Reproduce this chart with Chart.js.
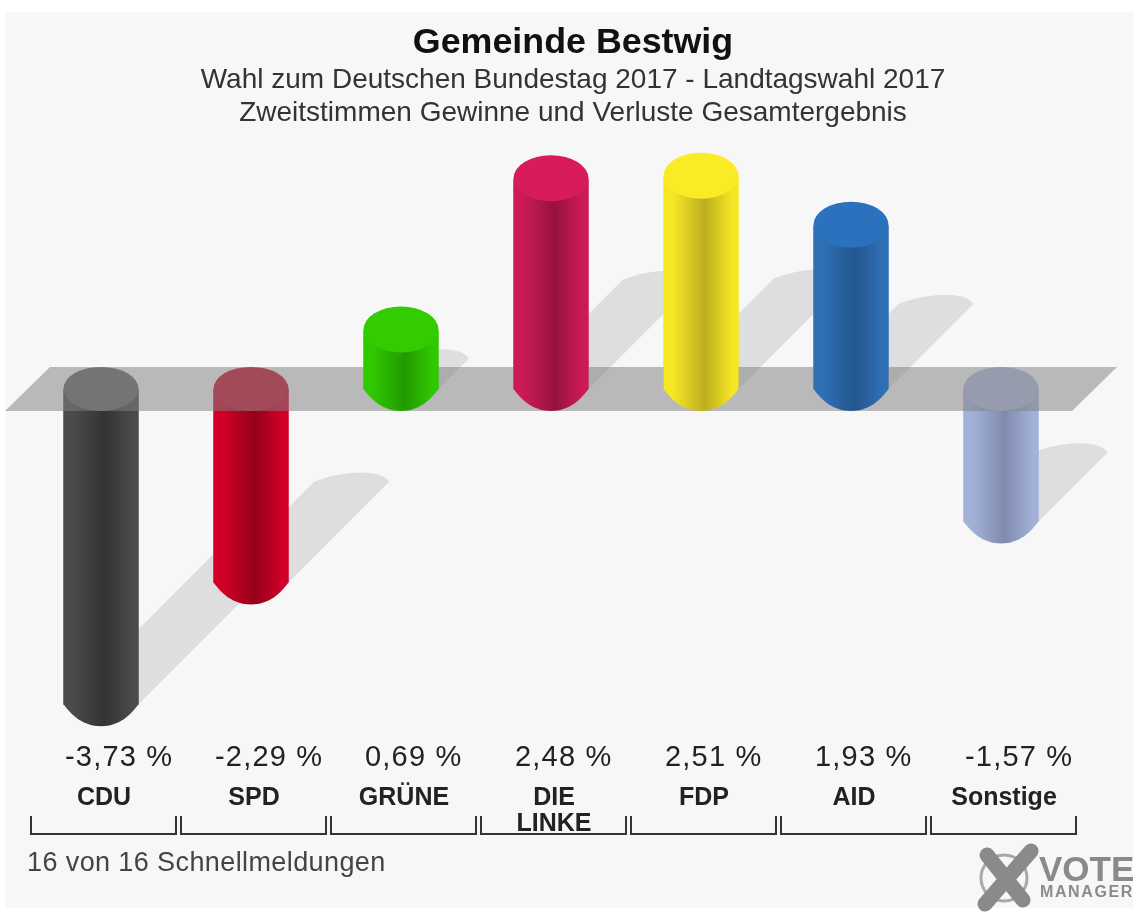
<!DOCTYPE html>
<html lang="de">
<head>
<meta charset="utf-8">
<title>Gemeinde Bestwig</title>
<style>html,body{margin:0;padding:0;background:#fff}canvas{display:block;filter:blur(0.4px)}</style>
<script src="https://cdn.jsdelivr.net/npm/chart.js@4"></script>
</head>
<body>
<canvas id="c" width="1133" height="913"></canvas>
<script>
const categories = [["CDU"], ["SPD"], ["GRÜNE"], ["DIE", "LINKE"], ["FDP"], ["AID"], ["Sonstige"]];
const changes = [-3.73, -2.29, 0.69, 2.48, 2.51, 1.93, -1.57];
const edgeColors = ["#4b4b4b", "#d20028", "#30c800", "#cc1a58", "#f6e724", "#2f70b4", "#a3b1d8"];
const coreColors = ["#333333", "#94001b", "#219a00", "#96123f", "#bdae20", "#23568f", "#7f8bad"];
const capColors = ["#666666", "#c8102e", "#33cc00", "#d81b5c", "#fbeb25", "#2a72bd", "#aebbe0"];
const titleText = "Gemeinde Bestwig";
const subtitleLines = ["Wahl zum Deutschen Bundestag 2017 - Landtagswahl 2017", "Zweitstimmen Gewinne und Verluste Gesamtergebnis"];
const footerText = "16 von 16 Schnellmeldungen";

const RY = 22;
const SHADOW = 0.52;

function cylinder(ctx, bar, i) {
  const l = bar.x - bar.width / 2, r = bar.x + bar.width / 2, rx = bar.width / 2;
  const top = Math.min(bar.y, bar.base), bot = Math.max(bar.y, bar.base);
  const g = ctx.createLinearGradient(l, 0, r, 0);
  g.addColorStop(0, edgeColors[i]);
  g.addColorStop(0.12, edgeColors[i]);
  g.addColorStop(0.55, coreColors[i]);
  g.addColorStop(0.92, edgeColors[i]);
  g.addColorStop(1, edgeColors[i]);
  ctx.fillStyle = g;
  ctx.beginPath();
  ctx.moveTo(l, top);
  ctx.lineTo(l, bot);
  ctx.bezierCurveTo(l + 8, bot + 11, bar.x - 18, bot + RY, bar.x, bot + RY);
  ctx.bezierCurveTo(bar.x + 18, bot + RY, r - 8, bot + 11, r, bot);
  ctx.lineTo(r, top);
  ctx.closePath();
  ctx.fill();
  ctx.fillStyle = capColors[i];
  ctx.beginPath();
  if (changes[i] >= 0) ctx.ellipse(bar.x, top - 1, rx, RY + 1, 0, 0, Math.PI * 2);
  else ctx.ellipse(bar.x, top, rx, RY, 0, 0, Math.PI * 2);
  ctx.fill();
}

const scenePlugin = {
  id: "scene",
  beforeDraw(chart) {
    const ctx = chart.ctx;
    ctx.save();
    ctx.fillStyle = "#f7f7f7";
    ctx.fillRect(5, 12, chart.width - 5, 896);
    ctx.restore();
  },
  afterLayout(chart) {
    chart.boxes.forEach(b => {
      if (b.position === "top" && b.fullSize) { b.left = 13; b.right = chart.width; }
    });
  },
  beforeDatasetsDraw(chart) {
    const ctx = chart.ctx, bars = chart.getDatasetMeta(0).data;
    const y0 = chart.scales.y.getPixelForValue(0);
    ctx.save();
    ctx.fillStyle = "#dedede";
    bars.forEach(bar => {
      const rx = bar.width / 2, by = Math.max(bar.y, bar.base);
      const d = Math.abs(bar.y - y0) * SHADOW;
      const lx = bar.x - rx + d, rxx = bar.x + rx + d, ty = by - d;
      ctx.beginPath();
      ctx.moveTo(bar.x - rx, by);
      ctx.lineTo(lx, ty);
      ctx.bezierCurveTo(lx + 27, ty - 11, rxx - 8, ty - 14, rxx, ty);
      ctx.lineTo(bar.x + rx, by);
      ctx.closePath();
      ctx.fill();
    });
    ctx.restore();
  },
  afterDatasetsDraw(chart) {
    const ctx = chart.ctx, bars = chart.getDatasetMeta(0).data;
    const y0 = chart.scales.y.getPixelForValue(0);
    const a = chart.chartArea;
    ctx.save();
    bars.forEach((bar, i) => { if (changes[i] < 0) cylinder(ctx, bar, i); });
    ctx.fillStyle = "rgba(128,128,128,0.52)";
    ctx.beginPath();
    ctx.moveTo(a.left - 21, y0 + RY);
    ctx.lineTo(a.left + 24, y0 - RY);
    ctx.lineTo(a.right + 41, y0 - RY);
    ctx.lineTo(a.right - 4, y0 + RY);
    ctx.closePath();
    ctx.fill();
    bars.forEach((bar, i) => { if (changes[i] >= 0) cylinder(ctx, bar, i); });
    ctx.restore();
  },
  afterDraw(chart) {
    const ctx = chart.ctx, bars = chart.getDatasetMeta(0).data;
    ctx.save();
    ctx.textBaseline = "middle";
    ctx.textAlign = "left";
    ctx.font = "29px 'Liberation Sans'";
    ctx.fillStyle = "#222";
    ctx.letterSpacing = "1.2px";
    bars.forEach((bar, i) => {
      const t = changes[i].toFixed(2).replace(".", ",") + " %";
      ctx.fillText(t, bar.x - 36, 758);
    });
    ctx.strokeStyle = "#333";
    ctx.lineWidth = 2;
    const step = bars[1].x - bars[0].x;
    bars.forEach(bar => {
      const l = bar.x - step / 2 + 5, r = bar.x + step / 2;
      ctx.beginPath();
      ctx.moveTo(l, 816);
      ctx.lineTo(l, 834);
      ctx.lineTo(r, 834);
      ctx.lineTo(r, 816);
      ctx.stroke();
    });
    ctx.font = "27px 'Liberation Sans'";
    ctx.fillStyle = "#444";
    ctx.letterSpacing = "0.4px";
    ctx.fillText(footerText, 27, 864);

    // VoteManager mark
    ctx.strokeStyle = "#a8a8a8";
    ctx.lineWidth = 3;
    ctx.beginPath();
    ctx.arc(1004, 878, 23, 0, Math.PI * 2);
    ctx.stroke();
    ctx.strokeStyle = "#8a8a8a";
    ctx.lineWidth = 15;
    ctx.lineCap = "round";
    ctx.beginPath();
    ctx.moveTo(987, 855);
    ctx.lineTo(1023, 900);
    ctx.moveTo(1031, 851);
    ctx.lineTo(985, 904);
    ctx.stroke();
    ctx.fillStyle = "#8a8a8a";
    ctx.font = "bold 35px 'Liberation Sans'";
    ctx.letterSpacing = "0px";
    ctx.fillText("VOTE", 1039, 871);
    ctx.font = "bold 16px 'Liberation Sans'";
    ctx.letterSpacing = "1.6px";
    ctx.fillText("MANAGER", 1040, 893);
    ctx.restore();
  }
};

new Chart(document.getElementById("c"), {
  type: "bar",
  data: {
    labels: categories,
    datasets: [{
      label: "Gewinne und Verluste",
      data: changes,
      backgroundColor: edgeColors,
      borderWidth: 0,
      barPercentage: 0.5,
      categoryPercentage: 1
    }]
  },
  plugins: [scenePlugin],
  options: {
    responsive: false,
    animation: false,
    layout: { padding: { left: 26, right: 57, top: 0, bottom: 0 } },
    plugins: {
      legend: { display: false },
      tooltip: { enabled: false },
      title: {
        display: true,
        text: titleText,
        color: "#111",
        font: { family: "'Liberation Sans'", size: 35.8, weight: "bold", lineHeight: 40.8 / 35.8 },
        padding: { top: 22.5, bottom: 0 }
      },
      subtitle: {
        display: true,
        text: subtitleLines,
        color: "#333",
        font: { family: "'Liberation Sans'", size: 28, weight: "normal", lineHeight: 33 / 28 },
        padding: { top: 0, bottom: 6 }
      }
    },
    scales: {
      y: { display: false, min: -4, max: 3 },
      x: {
        afterFit(s) { s.height = 186; },
        border: { display: false },
        grid: { display: false },
        ticks: {
          padding: 50,
          labelOffset: 3,
          maxRotation: 0,
          autoSkip: false,
          color: "#222",
          font: { family: "'Liberation Sans'", size: 25, weight: "bold", lineHeight: 26 / 25 }
        }
      }
    }
  }
});
</script>
</body>
</html>
